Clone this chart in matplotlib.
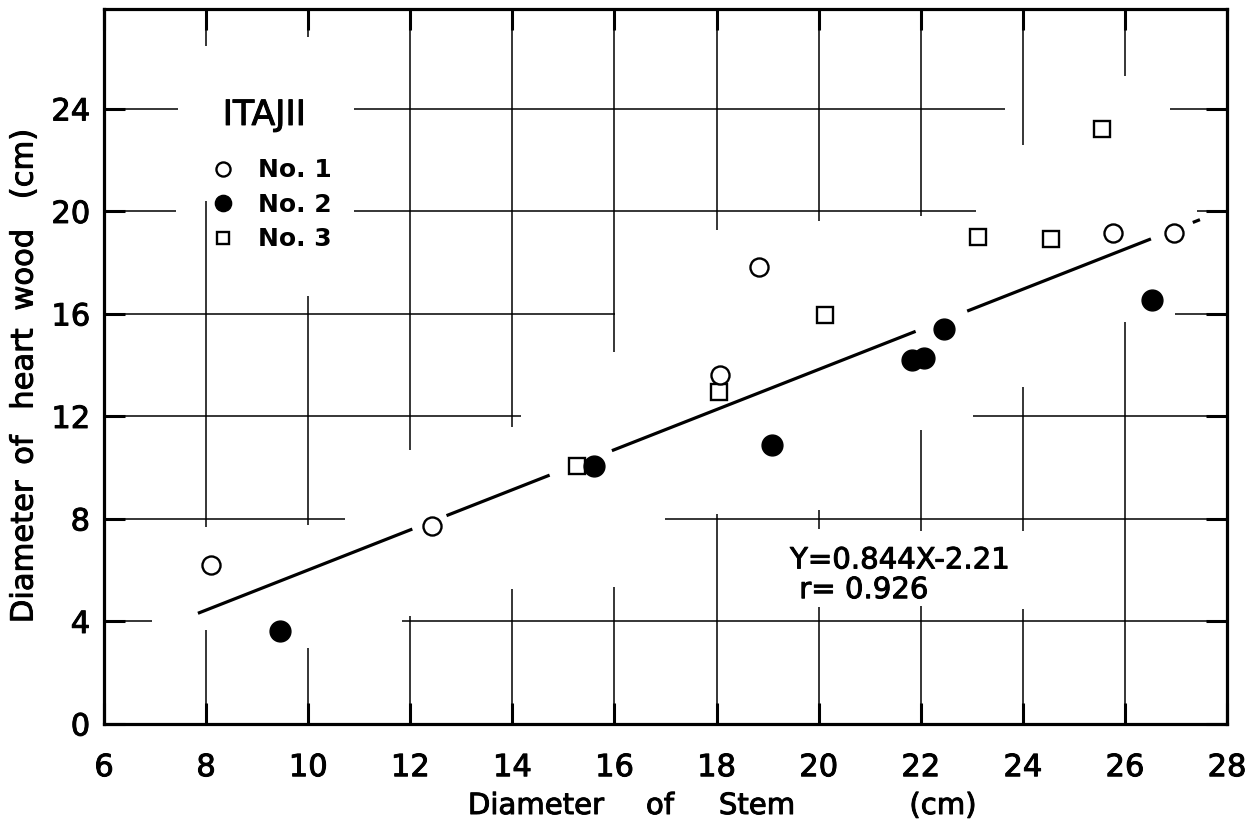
import matplotlib
matplotlib.use("Agg")
import matplotlib.pyplot as plt
import matplotlib.patheffects as pe
import numpy as np

# ---------------- data ----------------
no1_x = [8.1, 12.43, 18.06, 18.84, 25.77, 26.97]
no1_y = [6.2, 7.74, 13.63, 17.82, 19.16, 19.16]
no2_x = [9.45, 15.6, 19.09, 21.82, 22.06, 22.45, 26.54]
no2_y = [3.64, 10.08, 10.88, 14.2, 14.3, 15.4, 16.55]
no3_x = [15.27, 18.04, 20.12, 23.13, 24.56, 25.56]
no3_y = [10.08, 12.95, 15.95, 19.02, 18.94, 23.2]

# drawn regression line (end points) and its visible pieces (x ranges)
reg_x = [7.84, 27.47]
reg_y = [4.32, 19.68]
reg_pieces = [(7.84, 12.04), (12.71, 14.73), (15.95, 21.9), (22.91, 26.51), (27.33, 27.47)]

eq_text = "Y=0.844X-2.21"
r_text = "r= 0.926"

x_ticks = list(range(6, 29, 2))
y_ticks = list(range(0, 25, 4))

# broken grid (layout of the printed grid paper)
vgrid = {8: [(26.47, 27.9), (7.69, 20.42), (0, 3.65)],
         10: [(26.8, 27.9), (7.78, 16.72), (0, 2.97)],
         12: [(10.7, 27.9), (0, 4.2)],
         14: [(11.58, 27.9), (0, 5.26)],
         16: [(14.5, 27.9), (0, 5.34)],
         18: [(19.29, 27.9), (0, 8.19)],
         20: [(19.63, 27.9), (7.6, 8.35), (0, 4.58)],
         22: [(19.83, 27.9), (7.55, 11.49), (0, 4.62)],
         24: [(22.6, 27.9), (7.55, 13.15), (0, 4.49)],
         26: [(25.3, 27.9), (0, 15.68)]}
hgrid = {24: [(6, 7.45), (10.9, 23.66), (26.88, 28)],
         20: [(6, 7.42), (10.9, 23.09), (27.41, 28)],
         16: [(6, 16.02), (26.98, 28)],
         12: [(6, 14.17), (23.02, 28)],
         8: [(6, 10.72), (16.99, 28)],
         4: [(6, 6.94), (11.83, 28)]}

plt.rcParams['font.family'] = ['DejaVu Sans']
thick = [pe.withStroke(linewidth=0.7, foreground='black')]

fig = plt.figure(figsize=(12.52, 8.26), dpi=100)
ax = fig.add_axes([104/1252, 1-724/826, 1123/1252, 715/826])
ax.set_xlim(6, 28)
ax.set_ylim(0, 27.9)

for xv, segs in vgrid.items():
    for a, b in segs:
        ax.vlines(xv, a, b, color='black', lw=1.1, zorder=1)
for yv, segs in hgrid.items():
    for a, b in segs:
        ax.hlines(yv, a, b, color='black', lw=1.1, zorder=1)

# regression line pieces
slope = (reg_y[1] - reg_y[0]) / (reg_x[1] - reg_x[0])
for a, b in reg_pieces:
    ya = reg_y[0] + slope * (a - reg_x[0])
    yb = reg_y[0] + slope * (b - reg_x[0])
    ax.plot([a, b], [ya, yb], color='black', lw=2.3, solid_capstyle='butt', zorder=2)

h3, = ax.plot(no3_x, no3_y, ls='none', marker='s', ms=11.5, mfc='white', mec='black', mew=1.7, zorder=3)
h1, = ax.plot(no1_x, no1_y, ls='none', marker='o', ms=13, mfc='white', mec='black', mew=1.7, zorder=4)
h2, = ax.plot(no2_x, no2_y, ls='none', marker='o', ms=15, mfc='black', mec='black', mew=1, zorder=4)

ax.text(19.44, 6.07, eq_text, fontsize=21, va='baseline', ha='left', zorder=5, path_effects=thick)
ax.text(19.62, 4.91, r_text, fontsize=21, va='baseline', ha='left', zorder=5, path_effects=thick)

ax.text(0.1425, 0.8378, "ITAJII", transform=ax.transAxes, fontsize=25,
        ha='center', va='baseline', path_effects=thick)
leg = ax.legend([h1, h2, h3], ["No. 1", "No. 2", "No. 3"], loc='upper left',
                bbox_to_anchor=(0.096, 0.791), frameon=False, markerscale=0.78,
                prop={'size': 18, 'weight': 'bold'}, handlelength=0.9,
                handletextpad=0.95, labelspacing=0.42, borderpad=0, borderaxespad=0)

ax.set_xticks(x_ticks)
ax.set_yticks(y_ticks)
ax.set_xticklabels([str(v) for v in x_ticks])
ax.set_yticklabels([str(v) for v in y_ticks])
ax.tick_params(direction='in', length=15, width=2.2, top=True, right=True,
               labelsize=22)
ax.tick_params(axis='x', pad=21)
ax.tick_params(axis='y', pad=10)
for lab in ax.get_xticklabels() + ax.get_yticklabels():
    lab.set_path_effects(thick)
for s in ax.spines.values():
    s.set_linewidth(2.3)

# axis titles (letter-spaced words as in the original)
xlabel_words = [("Diameter", 0.3847), ("of", 0.4951), ("Stem", 0.5815), ("(cm)", 0.7471)]
for w, xp in xlabel_words:
    ax.text(xp, -0.1147, w, transform=ax.transAxes, fontsize=21, ha='center', va='center',
            path_effects=thick)
ylabel_words = [("Diameter", 0.2406), ("of", 0.383), ("heart", 0.4965), ("wood", 0.635), ("(cm)", 0.783)]
for w, yp in ylabel_words:
    ax.text(-0.0712, yp, w, transform=ax.transAxes, fontsize=22, ha='center', va='center',
            rotation=90, path_effects=thick)

fig.savefig("out.png", dpi=100)
